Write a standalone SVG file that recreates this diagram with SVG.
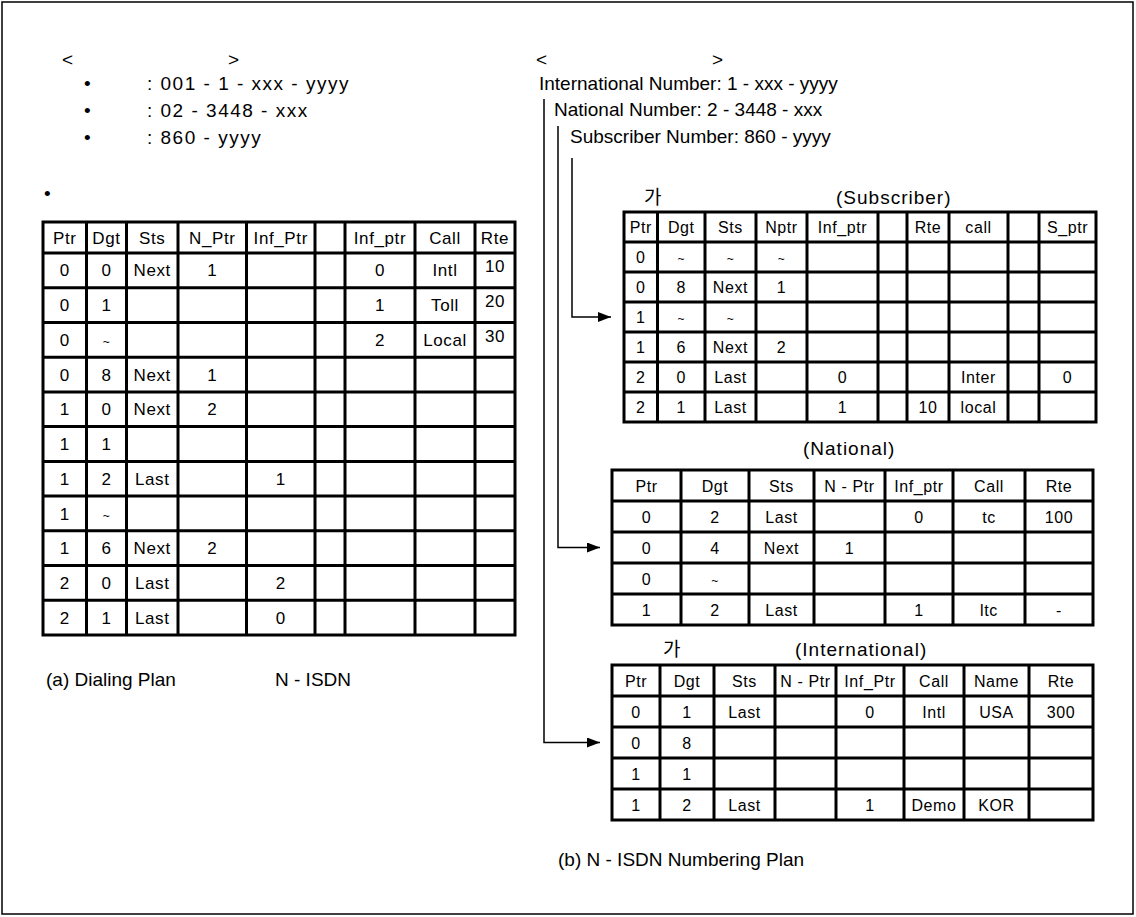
<svg xmlns="http://www.w3.org/2000/svg" width="1136" height="917" viewBox="0 0 1136 917">
<defs>
<style>
text{font-family:"Liberation Sans",Arial,"Noto Sans CJK KR",sans-serif;fill:#000}
.big{font-size:19px}
.ttl{font-size:19px;letter-spacing:1px}
.num{letter-spacing:1.5px}
.c{font-size:17px;text-anchor:middle;letter-spacing:0.6px}
.s{font-size:16px;text-anchor:middle;letter-spacing:0.6px}
.tl{font-size:12px}
.grid{fill:none;stroke:#000;stroke-width:3}
.conn{fill:none;stroke:#000;stroke-width:1.5}
.ko{font-family:"Noto Sans CJK KR",sans-serif}
</style>
<marker id="ah" markerUnits="userSpaceOnUse" markerWidth="13" markerHeight="10" refX="13" refY="5" orient="auto"><path d="M0,0 L13,5 L0,10 Z" fill="#000"/></marker>
</defs>
<rect x="2" y="2" width="1131" height="912" fill="#fff" stroke="#000" stroke-width="1.5"/>

<g id="header-left" class="big">
<text x="62" y="66">&lt;</text>
<text x="228" y="66">&gt;</text>
<text x="84" y="90">•</text><text x="147" y="90" class="num">: 001 - 1 - xxx - yyyy</text>
<text x="84" y="117">•</text><text x="147" y="117" class="num">: 02 - 3448 - xxx</text>
<text x="84" y="144">•</text><text x="147" y="144" class="num">: 860 - yyyy</text>
<text x="44" y="200">•</text>
</g>

<g id="header-right" class="big">
<text x="536" y="66">&lt;</text>
<text x="712" y="66">&gt;</text>
<text x="539" y="90">International Number: 1 - xxx - yyyy</text>
<text x="554" y="116">National Number: 2 - 3448 - xxx</text>
<text x="570" y="143">Subscriber Number: 860 - yyyy</text>
</g>

<g id="connectors">
<path class="conn" d="M572,158 V317 H611" marker-end="url(#ah)"/>
<path class="conn" d="M558,126 V547.5 H600" marker-end="url(#ah)"/>
<path class="conn" d="M544,99 V742.5 H600" marker-end="url(#ah)"/>
</g>

<g id="table-dialing">
<rect class="grid" x="43" y="222" width="472" height="413"/>
<path class="grid" d="M86.5,222V635M126.5,222V635M178,222V635M246.5,222V635M315,222V635M345,222V635M415,222V635M475,222V635M43,253H515M43,287.7H515M43,322.5H515M43,357.2H515M43,391.9H515M43,426.6H515M43,461.4H515M43,496.1H515M43,530.8H515M43,565.6H515M43,600.3H515"/>
<g class="c">
<text x="64.75" y="243.5">Ptr</text><text x="106.5" y="243.5">Dgt</text><text x="152.25" y="243.5">Sts</text><text x="212.25" y="243.5">N_Ptr</text><text x="280.75" y="243.5">Inf_Ptr</text><text x="380" y="243.5">Inf_ptr</text><text x="445" y="243.5">Call</text><text x="495" y="243.5">Rte</text>
<text x="64.75" y="276.4">0</text><text x="106.5" y="276.4">0</text><text x="152.25" y="276.4">Next</text><text x="212.25" y="276.4">1</text><text x="380" y="276.4">0</text><text x="445" y="276.4">Intl</text><text x="495" y="272.4">10</text>
<text x="64.75" y="311.1">0</text><text x="106.5" y="311.1">1</text><text x="380" y="311.1">1</text><text x="445" y="311.1">Toll</text><text x="495" y="307.1">20</text>
<text x="64.75" y="345.8">0</text><text x="106.5" y="345.8" class="tl">~</text><text x="380" y="345.8">2</text><text x="445" y="345.8">Local</text><text x="495" y="341.8">30</text>
<text x="64.75" y="380.6">0</text><text x="106.5" y="380.6">8</text><text x="152.25" y="380.6">Next</text><text x="212.25" y="380.6">1</text>
<text x="64.75" y="415.3">1</text><text x="106.5" y="415.3">0</text><text x="152.25" y="415.3">Next</text><text x="212.25" y="415.3">2</text>
<text x="64.75" y="450">1</text><text x="106.5" y="450">1</text>
<text x="64.75" y="484.7">1</text><text x="106.5" y="484.7">2</text><text x="152.25" y="484.7">Last</text><text x="280.75" y="484.7">1</text>
<text x="64.75" y="519.5">1</text><text x="106.5" y="519.5" class="tl">~</text>
<text x="64.75" y="554.2">1</text><text x="106.5" y="554.2">6</text><text x="152.25" y="554.2">Next</text><text x="212.25" y="554.2">2</text>
<text x="64.75" y="588.9">2</text><text x="106.5" y="588.9">0</text><text x="152.25" y="588.9">Last</text><text x="280.75" y="588.9">2</text>
<text x="64.75" y="623.7">2</text><text x="106.5" y="623.7">1</text><text x="152.25" y="623.7">Last</text><text x="280.75" y="623.7">0</text>
</g>
</g>

<g id="caption-a" class="big">
<text x="46" y="686">(a) Dialing Plan</text>
<text x="275" y="686">N - ISDN</text>
</g>

<g id="table-subscriber">
<text x="644" y="204" class="big ko">가</text>
<text x="836" y="204" class="ttl">(Subscriber)</text>
<rect class="grid" x="624" y="212" width="472" height="210"/>
<path class="grid" d="M657.5,212V422M705,212V422M756,212V422M807,212V422M878,212V422M907,212V422M949,212V422M1008,212V422M1039,212V422M624,242H1096M624,272H1096M624,302H1096M624,332H1096M624,362H1096M624,392H1096"/>
<g class="s">
<text x="640.75" y="233">Ptr</text><text x="681.25" y="233">Dgt</text><text x="730.5" y="233">Sts</text><text x="781.5" y="233">Nptr</text><text x="842.5" y="233">Inf_ptr</text><text x="928" y="233">Rte</text><text x="978.5" y="233">call</text><text x="1067.5" y="233">S_ptr</text>
<text x="640.75" y="263">0</text><text x="681.25" y="263" class="tl">~</text><text x="730.5" y="263" class="tl">~</text><text x="781.5" y="263" class="tl">~</text>
<text x="640.75" y="293">0</text><text x="681.25" y="293">8</text><text x="730.5" y="293">Next</text><text x="781.5" y="293">1</text>
<text x="640.75" y="323">1</text><text x="681.25" y="323" class="tl">~</text><text x="730.5" y="323" class="tl">~</text>
<text x="640.75" y="353">1</text><text x="681.25" y="353">6</text><text x="730.5" y="353">Next</text><text x="781.5" y="353">2</text>
<text x="640.75" y="383">2</text><text x="681.25" y="383">0</text><text x="730.5" y="383">Last</text><text x="842.5" y="383">0</text><text x="978.5" y="383">Inter</text><text x="1067.5" y="383">0</text>
<text x="640.75" y="413">2</text><text x="681.25" y="413">1</text><text x="730.5" y="413">Last</text><text x="842.5" y="413">1</text><text x="928" y="413">10</text><text x="978.5" y="413">local</text>
</g>
</g>

<g id="table-national">
<text x="803" y="455" class="ttl">(National)</text>
<rect class="grid" x="612" y="470" width="481" height="155"/>
<path class="grid" d="M681,470V625M749,470V625M814,470V625M885,470V625M953,470V625M1025,470V625M612,501H1093M612,532H1093M612,563H1093M612,594H1093"/>
<g class="s">
<text x="646.5" y="491.5">Ptr</text><text x="715" y="491.5">Dgt</text><text x="781.5" y="491.5">Sts</text><text x="849.5" y="491.5">N - Ptr</text><text x="919" y="491.5">Inf_ptr</text><text x="989" y="491.5">Call</text><text x="1059" y="491.5">Rte</text>
<text x="646.5" y="522.5">0</text><text x="715" y="522.5">2</text><text x="781.5" y="522.5">Last</text><text x="919" y="522.5">0</text><text x="989" y="522.5">tc</text><text x="1059" y="522.5">100</text>
<text x="646.5" y="553.5">0</text><text x="715" y="553.5">4</text><text x="781.5" y="553.5">Next</text><text x="849.5" y="553.5">1</text>
<text x="646.5" y="584.5">0</text><text x="715" y="584.5" class="tl">~</text>
<text x="646.5" y="615.5">1</text><text x="715" y="615.5">2</text><text x="781.5" y="615.5">Last</text><text x="919" y="615.5">1</text><text x="989" y="615.5">ltc</text><text x="1059" y="615.5">-</text>
</g>
</g>

<g id="table-international">
<text x="663" y="656" class="big ko">가</text>
<text x="795" y="656" class="ttl">(International)</text>
<rect class="grid" x="612" y="665" width="481" height="155"/>
<path class="grid" d="M660,665V820M714,665V820M775,665V820M836,665V820M904,665V820M964,665V820M1029,665V820M612,696H1093M612,727H1093M612,758H1093M612,789H1093"/>
<g class="s">
<text x="636" y="686.5">Ptr</text><text x="687" y="686.5">Dgt</text><text x="744.5" y="686.5">Sts</text><text x="805.5" y="686.5">N - Ptr</text><text x="870" y="686.5">Inf_Ptr</text><text x="934" y="686.5">Call</text><text x="996.5" y="686.5">Name</text><text x="1061" y="686.5">Rte</text>
<text x="636" y="717.5">0</text><text x="687" y="717.5">1</text><text x="744.5" y="717.5">Last</text><text x="870" y="717.5">0</text><text x="934" y="717.5">Intl</text><text x="996.5" y="717.5">USA</text><text x="1061" y="717.5">300</text>
<text x="636" y="748.5">0</text><text x="687" y="748.5">8</text>
<text x="636" y="779.5">1</text><text x="687" y="779.5">1</text>
<text x="636" y="810.5">1</text><text x="687" y="810.5">2</text><text x="744.5" y="810.5">Last</text><text x="870" y="810.5">1</text><text x="934" y="810.5">Demo</text><text x="996.5" y="810.5">KOR</text>
</g>
</g>

<g id="caption-b" class="big">
<text x="558" y="866">(b) N - ISDN Numbering Plan</text>
</g>
</svg>
